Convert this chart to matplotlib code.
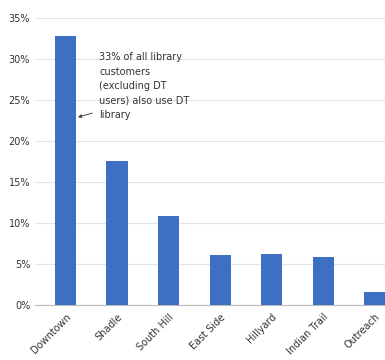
import matplotlib.pyplot as plt
from matplotlib.ticker import PercentFormatter

branches = ['Downtown', 'Shadle', 'South Hill', 'East Side', 'Hillyard', 'Indian Trail', 'Outreach']
share = [0.328, 0.176, 0.109, 0.061, 0.062, 0.059, 0.016]
y_ticks = [0, 0.05, 0.10, 0.15, 0.20, 0.25, 0.30, 0.35]

note = '33% of all library\ncustomers\n(excluding DT\nusers) also use DT\nlibrary'


def main():
    fig = plt.figure(figsize=(3.85, 3.6), dpi=100)
    ax = fig.add_axes([0.091, 0.153, 0.909, 0.797])

    x = range(len(branches))
    ax.bar(x, share, width=0.41, color='#3d6fc2', zorder=3)

    ax.set_ylim(0, 0.35)
    ax.set_xlim(-0.59, 6.2)
    ax.set_yticks(y_ticks)
    ax.yaxis.set_major_formatter(PercentFormatter(1.0, decimals=0))
    ax.set_xticks(list(x))
    ax.set_xticklabels(branches, rotation=45, ha='right', rotation_mode='anchor')
    ax.tick_params(axis='both', length=0, labelsize=7, colors='#333333')
    ax.tick_params(axis='x', pad=5)

    ax.yaxis.grid(True, color='#e4e4e4', linewidth=0.8, zorder=0)
    for side in ['top', 'right', 'left']:
        ax.spines[side].set_visible(False)
    ax.spines['bottom'].set_color('#bbbbbb')

    # callout text and its small arrow pointing at the Downtown bar
    ax.text(0.66, 0.308, note, fontsize=7, color='#333333', va='top', ha='left',
            linespacing=1.55)
    ax.annotate('', xy=(0.24, 0.229), xytext=(0.52, 0.234),
                arrowprops=dict(arrowstyle='-|>', color='#444444', lw=0.7,
                                mutation_scale=5, shrinkA=0, shrinkB=0))

    fig.savefig('out.png', dpi=100)


if __name__ == "__main__":
    main()
